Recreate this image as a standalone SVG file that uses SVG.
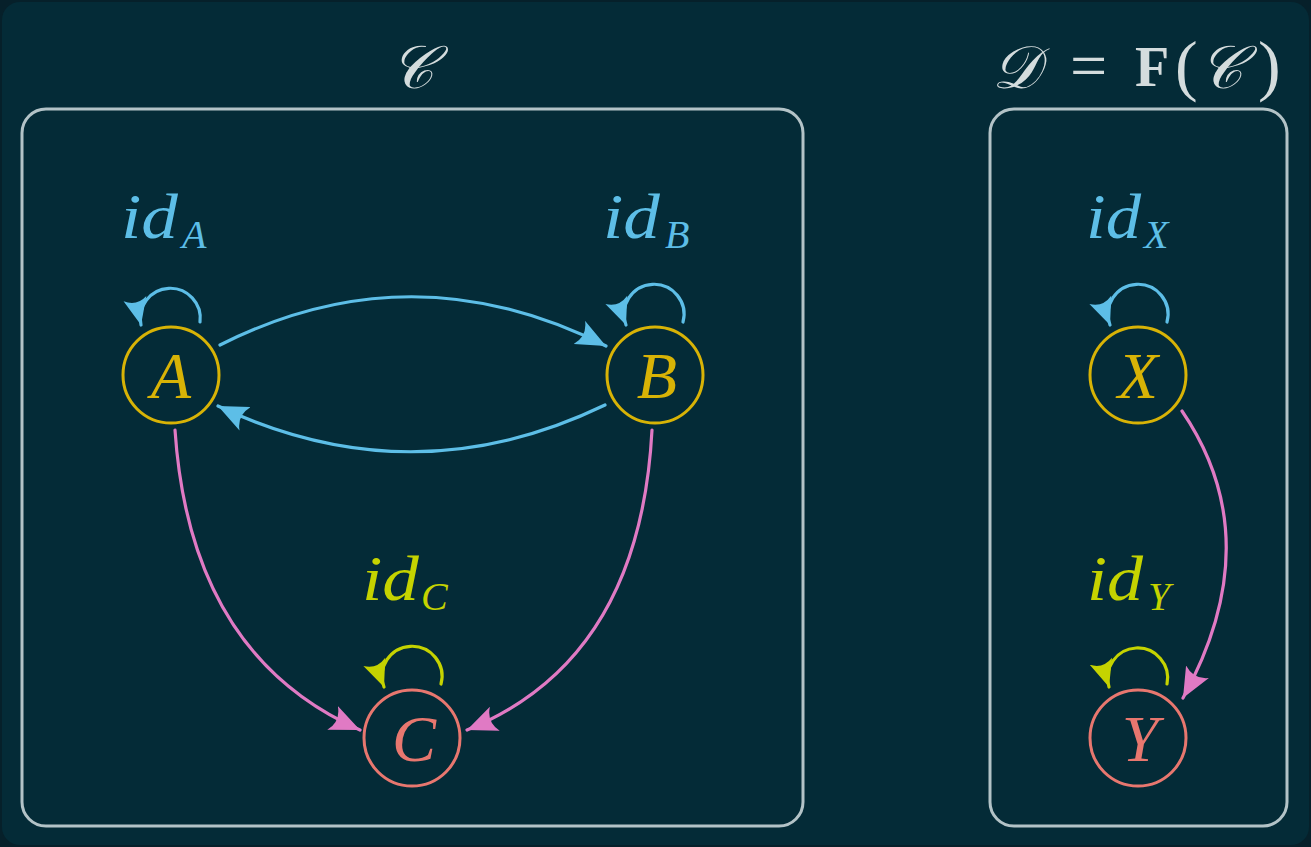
<svg xmlns="http://www.w3.org/2000/svg" width="1311" height="847" viewBox="0 0 1311 847">
<style>
.frame{fill:none;stroke:#b3c3c7;stroke-width:3}
.node{fill:none;stroke-width:3}
.gold{stroke:#d8b306}
.salmon{stroke:#e8776f}
.nl{font-family:"Liberation Serif",serif;font-style:italic;font-size:66px;text-anchor:middle}
.lbl{font-family:"Liberation Serif",serif;font-style:italic}
.id{font-size:64px}
.sub{font-size:40px}
.blue{fill:#5dbee7}
.lime{fill:#c5d300}
.title{fill:#d4dcdd}
.e{fill:none;stroke-width:3.2;stroke-linecap:round}
.eb{stroke:#5dbee7}
.ep{stroke:#e07ac4}
.el{stroke:#c5d300}
</style>
<defs>
<marker id="mb" viewBox="0 0 30 26" refX="30" refY="13" markerWidth="30" markerHeight="26" markerUnits="userSpaceOnUse" orient="auto"><path d="M30,13 L0,0 Q9,13 0,26 Z" fill="#5dbee7"/></marker>
<marker id="mp" viewBox="0 0 30 26" refX="30" refY="13" markerWidth="30" markerHeight="26" markerUnits="userSpaceOnUse" orient="auto"><path d="M30,13 L0,0 Q9,13 0,26 Z" fill="#e07ac4"/></marker>
<marker id="ml" viewBox="0 0 30 26" refX="30" refY="13" markerWidth="27" markerHeight="25" markerUnits="userSpaceOnUse" orient="auto"><path d="M30,13 L0,0 Q9,13 0,26 Z" fill="#c5d300"/></marker>
<marker id="mbs" viewBox="0 0 30 26" refX="30" refY="13" markerWidth="27" markerHeight="25" markerUnits="userSpaceOnUse" orient="auto"><path d="M30,13 L0,0 Q9,13 0,26 Z" fill="#5dbee7"/></marker>
</defs>
<rect x="0" y="0" width="1311" height="847" fill="#06202a"/>
<rect x="2" y="2" width="1307" height="843" rx="18" fill="#042b37"/>

<g id="box-C">
<rect class="frame" x="22" y="109" width="781" height="717" rx="24"/>
<text class="lbl title" x="412" y="88" font-size="60" text-anchor="middle">𝒞</text>
</g>
<g id="box-D">
<rect class="frame" x="990" y="109" width="297" height="717" rx="24"/>
<text class="lbl title" font-size="60" x="992" y="88">𝒟</text>
<text class="title" font-family="Liberation Serif, serif" font-size="66" x="1070" y="88">=</text>
<text class="title" font-family="Liberation Serif, serif" font-weight="bold" font-size="56" x="1135" y="86">F</text>
<text class="title" font-family="Liberation Serif, serif" font-size="68" x="1175" y="88">(</text>
<text class="lbl title" font-size="60" x="1199" y="88">𝒞</text>
<text class="title" font-family="Liberation Serif, serif" font-size="68" x="1258" y="88">)</text>
</g>

<g id="connectors">
<path class="e eb" d="M220 345 Q412 248 606 346" marker-end="url(#mb)"/>
<path class="e eb" d="M605 405 Q412 498 218 406" marker-end="url(#mb)"/>
<path class="e ep" d="M175 430 Q190 655 360 730" marker-end="url(#mp)"/>
<path class="e ep" d="M652 430 Q640 660 467 730" marker-end="url(#mp)"/>
<path class="e ep" d="M1182 411 Q1270 540 1183 698" marker-end="url(#mp)"/>
<path class="e eb" d="M200 322 A30 30 0 1 0 141 325" marker-end="url(#mbs)"/>
<path class="e eb" d="M683 322 A30 30 0 1 0 626 325" marker-end="url(#mbs)"/>
<path class="e el" d="M441 684 A30 30 0 1 0 384 687" marker-end="url(#ml)"/>
<path class="e eb" d="M1167 322 A30 30 0 1 0 1110 325" marker-end="url(#mbs)"/>
<path class="e el" d="M1167 684 A30 30 0 1 0 1109 687" marker-end="url(#ml)"/>
</g>

<g id="node-A">
<circle class="node gold" cx="171" cy="375" r="48"/>
<text class="nl" x="171" y="398" fill="#d8b306">A</text>
<text class="lbl id blue" x="121" y="238" textLength="57" lengthAdjust="spacingAndGlyphs">id</text>
<text class="lbl sub blue" x="182" y="248">A</text>
</g>
<g id="node-B">
<circle class="node gold" cx="655" cy="375" r="48"/>
<text class="nl" x="657" y="398" fill="#d8b306">B</text>
<text class="lbl id blue" x="603" y="238" textLength="57" lengthAdjust="spacingAndGlyphs">id</text>
<text class="lbl sub blue" x="665" y="248">B</text>
</g>
<g id="node-C">
<circle class="node salmon" cx="412" cy="738" r="48"/>
<text class="nl" x="414" y="761" fill="#e8776f">C</text>
<text class="lbl id lime" x="362" y="600" textLength="57" lengthAdjust="spacingAndGlyphs">id</text>
<text class="lbl sub lime" x="421" y="610">C</text>
</g>
<g id="node-X">
<circle class="node gold" cx="1138" cy="375" r="48"/>
<text class="nl" x="1138" y="398" fill="#d8b306">X</text>
<text class="lbl id blue" x="1086" y="238" textLength="55" lengthAdjust="spacingAndGlyphs">id</text>
<text class="lbl sub blue" x="1144" y="248">X</text>
</g>
<g id="node-Y">
<circle class="node salmon" cx="1138" cy="738" r="48"/>
<text class="nl" x="1140" y="761" fill="#e8776f">Y</text>
<text class="lbl id lime" x="1087" y="600" textLength="56" lengthAdjust="spacingAndGlyphs">id</text>
<text class="lbl sub lime" x="1148" y="610">Y</text>
</g>
</svg>
